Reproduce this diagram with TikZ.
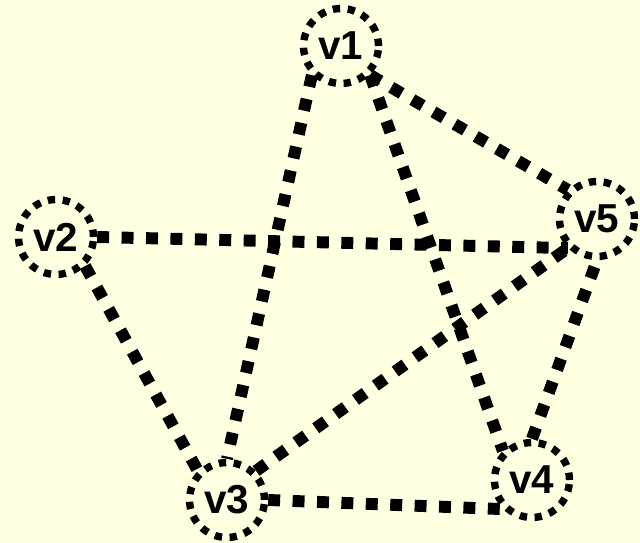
\documentclass[tikz,border=0pt]{standalone}
\usepackage{fontspec}
\setmainfont{Liberation Sans}
\definecolor{bgyellow}{RGB}{255,255,225}

\begin{document}
\begin{tikzpicture}[x=0.02cm, y=-0.02cm,
  vtx/.style={circle, draw, line width=4.2pt, dash pattern=on 4.2pt off 4.3pt, minimum size=1.5cm, inner sep=0pt, font=\fontsize{23}{25}\selectfont\bfseries},
  edge/.style={line width=6.8pt, dash pattern=on 6.8pt off 7.1pt}]
  \fill[bgyellow] (0,0) rectangle (640,543);
  \useasboundingbox (0,0) rectangle (640,543);

  \node[vtx] (v1) at (341,46) {v1};
  \node[vtx] (v2) at (56,237) {v2};
  \node[vtx] (v3) at (227,500) {v3};
  \node[vtx] (v4) at (532,480) {v4};
  \node[vtx] (v5) at (597,219) {v5};

  \draw[edge] (v1.south west) -- (v3.north);
  \draw[edge] (v1.south east) -- (v4.north west);
  \draw[edge] (v1.south east) -- (v5.north west);
  \draw[edge] (v2.east) -- (v5.south west);
  \draw[edge] (v2.south east) -- (v3.north west);
  \draw[edge] (v3.north east) -- (v5.south west);
  \draw[edge] (v3.east) -- (v4.south west);
  \draw[edge] (v4.north) -- (v5.south);
\end{tikzpicture}
\end{document}
